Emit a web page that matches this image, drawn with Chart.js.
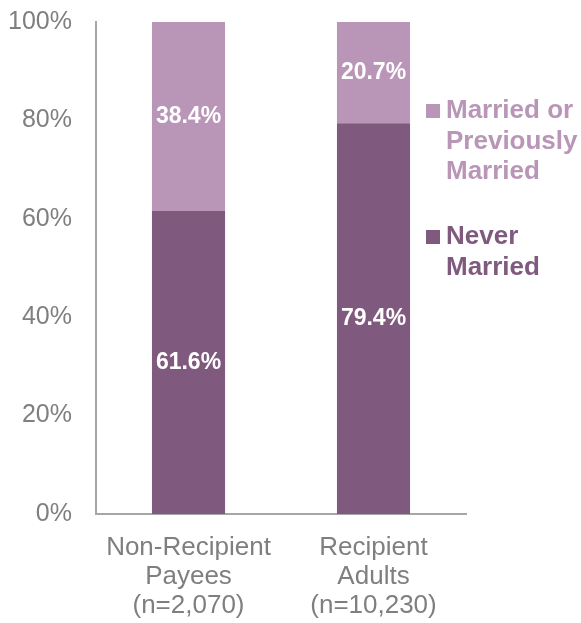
<!DOCTYPE html>
<html>
<head>
<meta charset="utf-8">
<script src="https://cdn.jsdelivr.net/npm/chart.js@4/dist/chart.umd.min.js"></script>
<style>
  html, body { margin: 0; padding: 0; background: #fff; }
  #wrap { width: 581px; height: 623px; position: relative; }
</style>
</head>
<body>
<div id="wrap"><canvas id="chart"></canvas></div>
<script>
const categories = [['Non-Recipient', 'Payees', '(n=2,070)'], ['Recipient', 'Adults', '(n=10,230)']];
const neverMarried = [61.6, 79.4];
const marriedOrPrev = [38.4, 20.7];
const seriesNames = [['Never', 'Married'], ['Married or', 'Previously', 'Married']];
const yTicks = [0, 20, 40, 60, 80, 100];

const darkPurple = '#7f5a7e';
const lightPurple = '#b996b7';
const grey = '#7f7f7f';
const font = '"Liberation Sans", Arial, sans-serif';

// white value labels centred in each segment
const valueLabels = {
  id: 'valueLabels',
  afterDatasetsDraw(chart) {
    const ctx = chart.ctx;
    ctx.save();
    ctx.fillStyle = '#fff';
    ctx.font = 'bold 23px ' + font;
    ctx.textAlign = 'center';
    ctx.textBaseline = 'middle';
    chart.data.datasets.forEach((ds, i) => {
      chart.getDatasetMeta(i).data.forEach((bar, j) => {
        const mid = (bar.y + bar.base) / 2;
        ctx.fillText(ds.data[j].toFixed(1) + '%', bar.x, mid);
      });
    });
    ctx.restore();
  }
};

// legend on the right, light series on top
const sideLegend = {
  id: 'sideLegend',
  afterDraw(chart) {
    const ctx = chart.ctx;
    ctx.save();
    ctx.font = 'bold 26px ' + font;
    ctx.textBaseline = 'middle';
    const items = [
      { lines: seriesNames[1], color: lightPurple, y: 111 },
      { lines: seriesNames[0], color: darkPurple, y: 237 }
    ];
    items.forEach(it => {
      ctx.fillStyle = it.color;
      ctx.fillRect(426, it.y - 7, 14, 14);
      it.lines.forEach((t, k) => ctx.fillText(t, 446, it.y + k * 30.5));
    });
    ctx.restore();
  }
};

new Chart(document.getElementById('chart'), {
  type: 'bar',
  data: {
    labels: categories,
    datasets: [
      { label: 'Never Married', data: neverMarried, backgroundColor: darkPurple,
        categoryPercentage: 1, barPercentage: 0.395 },
      { label: 'Married or Previously Married', data: marriedOrPrev, backgroundColor: lightPurple,
        categoryPercentage: 1, barPercentage: 0.395 }
    ]
  },
  options: {
    responsive: true,
    maintainAspectRatio: false,
    animation: false,
    layout: { padding: { top: 22, right: 115, left: 0, bottom: 0 } },
    plugins: { legend: { display: false }, tooltip: { enabled: false } },
    scales: {
      x: {
        stacked: true,
        grid: { display: false, drawTicks: false },
        border: { color: '#a6a6a6', width: 2 },
        ticks: { color: grey, font: { family: font, size: 26, lineHeight: 1.12 }, padding: 19, maxRotation: 0 },
        afterFit: s => { s.height = 109; }
      },
      y: {
        stacked: true,
        min: 0, max: 100,
        afterBuildTicks: s => { s.ticks = yTicks.map(v => ({ value: v })); },
        grid: { display: false, drawTicks: false },
        border: { color: '#a6a6a6', width: 2 },
        ticks: { color: grey, font: { family: font, size: 25 }, padding: 24, callback: v => v + '%' },
        afterFit: s => { s.width = 96; s.paddingTop = 0; s.paddingBottom = 0; }
      }
    }
  },
  plugins: [valueLabels, sideLegend]
});
</script>
</body>
</html>
